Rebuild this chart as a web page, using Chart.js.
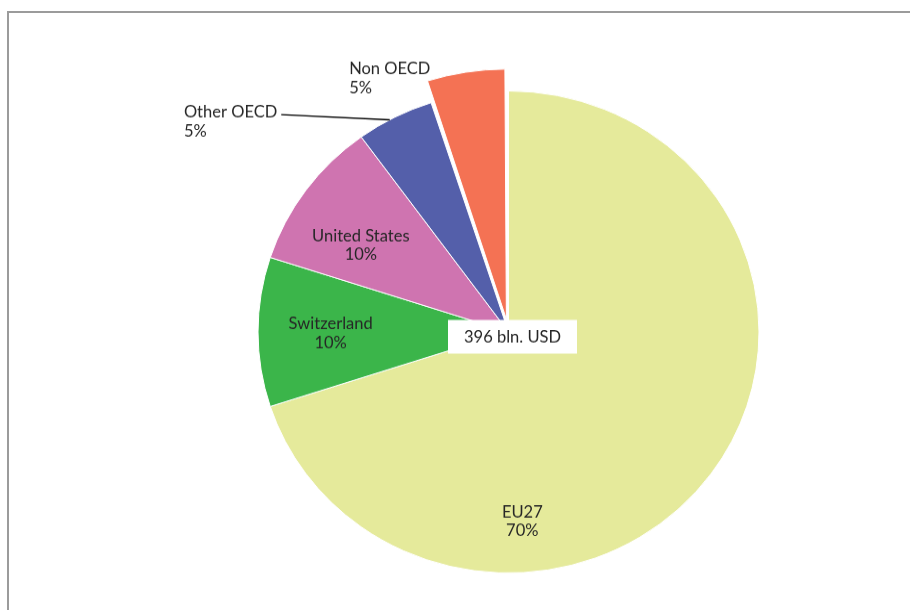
<!DOCTYPE html>
<html lang="en">
<head>
  <meta charset="UTF-8" />
  <title>Exports by destination</title>
  <script src="https://cdn.jsdelivr.net/npm/chart.js"></script>
  <style>
    body {
      margin: 0;
      background: white;
      overflow: hidden;
    }
    .frame {
      position: absolute;
      left: 7px;
      top: 11px;
      width: 1000px;
      height: 700px;
      border-top: 2px solid #9b9b9b;
      border-left: 2px solid #9b9b9b;
    }
    /* drawn a little taller, then squeezed: the original pie is slightly oval */
    #pie {
      position: absolute;
      left: 0;
      top: 0;
      width: 910px;
      height: 610px;
    }
  </style>
</head>
<body>
  <div class="frame"></div>
  <canvas id="pie" width="910" height="634" style="width:910px;height:610px"></canvas>

  <script>
    const regions = ["EU27", "Switzerland", "United States", "Other OECD", "Non OECD"];
    const shares = [70, 10, 10, 5, 5];
    const colors = ["#e5ea9b", "#3bb54a", "#cf74b0", "#545faa", "#f47254"];
    // Chart.js moves an arc by roughly offset * 0.42 for a thin slice
    const explode = [0, 0, 0, 0, 54];
    const totalLabel = "396 bln. USD";

    // label anchors: angle (deg, clockwise from top) and distance as share of radius
    const labelSpots = [
      { angle: 176, dist: 0.79, align: "center" },
      { angle: 269.4, dist: 0.71, align: "center" },
      { angle: 301.3, dist: 0.69, align: "center" },
      { angle: 303.9, dist: 1.561, align: "left", leader: { angle: 331.7, dist: 1.0 } },
      { angle: 328.8, dist: 1.228, align: "left" }
    ];

    const FONT = '16.5px Lato, "Noto Sans", sans-serif';
    const LINE = 19.5;

    function polar(cx, cy, r, deg, f) {
      const a = (deg - 90) * Math.PI / 180;
      return { x: cx + Math.cos(a) * r * f, y: cy + Math.sin(a) * r * f };
    }

    const pieLabels = {
      id: "pieLabels",
      afterDatasetsDraw(chart) {
        const ctx = chart.ctx;
        const meta = chart.getDatasetMeta(0);
        const cx = meta.data[0].x, cy = meta.data[0].y, r = meta.data[0].outerRadius;
        ctx.save();
        ctx.font = FONT;
        ctx.fillStyle = "#262626";
        ctx.textBaseline = "middle";
        regions.forEach((name, i) => {
          const s = labelSpots[i];
          const p = polar(cx, cy, r, s.angle, s.dist);
          ctx.textAlign = s.align;
          ctx.fillText(name, p.x, p.y - LINE / 2);
          ctx.fillText(shares[i] + "%", p.x, p.y + LINE / 2);
          if (s.leader) {
            const w = ctx.measureText(name).width;
            const end = polar(cx, cy, r, s.leader.angle, s.leader.dist);
            ctx.beginPath();
            ctx.strokeStyle = "#000";
            ctx.lineWidth = 1.4;
            ctx.moveTo(p.x + w + 4, p.y - LINE / 2 + 2);
            ctx.lineTo(end.x, end.y);
            ctx.stroke();
          }
        });

        // total in a white box at the middle
        const bw = 129, bh = 35;
        const bx = cx + 4, by = cy + 5;
        ctx.fillStyle = "#fff";
        ctx.fillRect(bx - bw / 2, by - bh / 2, bw, bh);
        ctx.fillStyle = "#262626";
        ctx.textAlign = "center";
        ctx.fillText(totalLabel, bx, by + 1);
        ctx.restore();
      }
    };

    new Chart(document.getElementById("pie"), {
      type: "pie",
      data: {
        labels: regions,
        datasets: [{
          data: shares,
          backgroundColor: colors,
          borderColor: "#fff",
          borderWidth: 1,
          offset: explode
        }]
      },
      options: {
        responsive: false,
        animation: false,
        radius: 250.5,
        layout: { padding: { left: 107, right: 0, top: 56, bottom: 0 } },
        plugins: {
          legend: { display: false },
          tooltip: { enabled: false }
        }
      },
      plugins: [pieLabels]
    });
  </script>
</body>
</html>
